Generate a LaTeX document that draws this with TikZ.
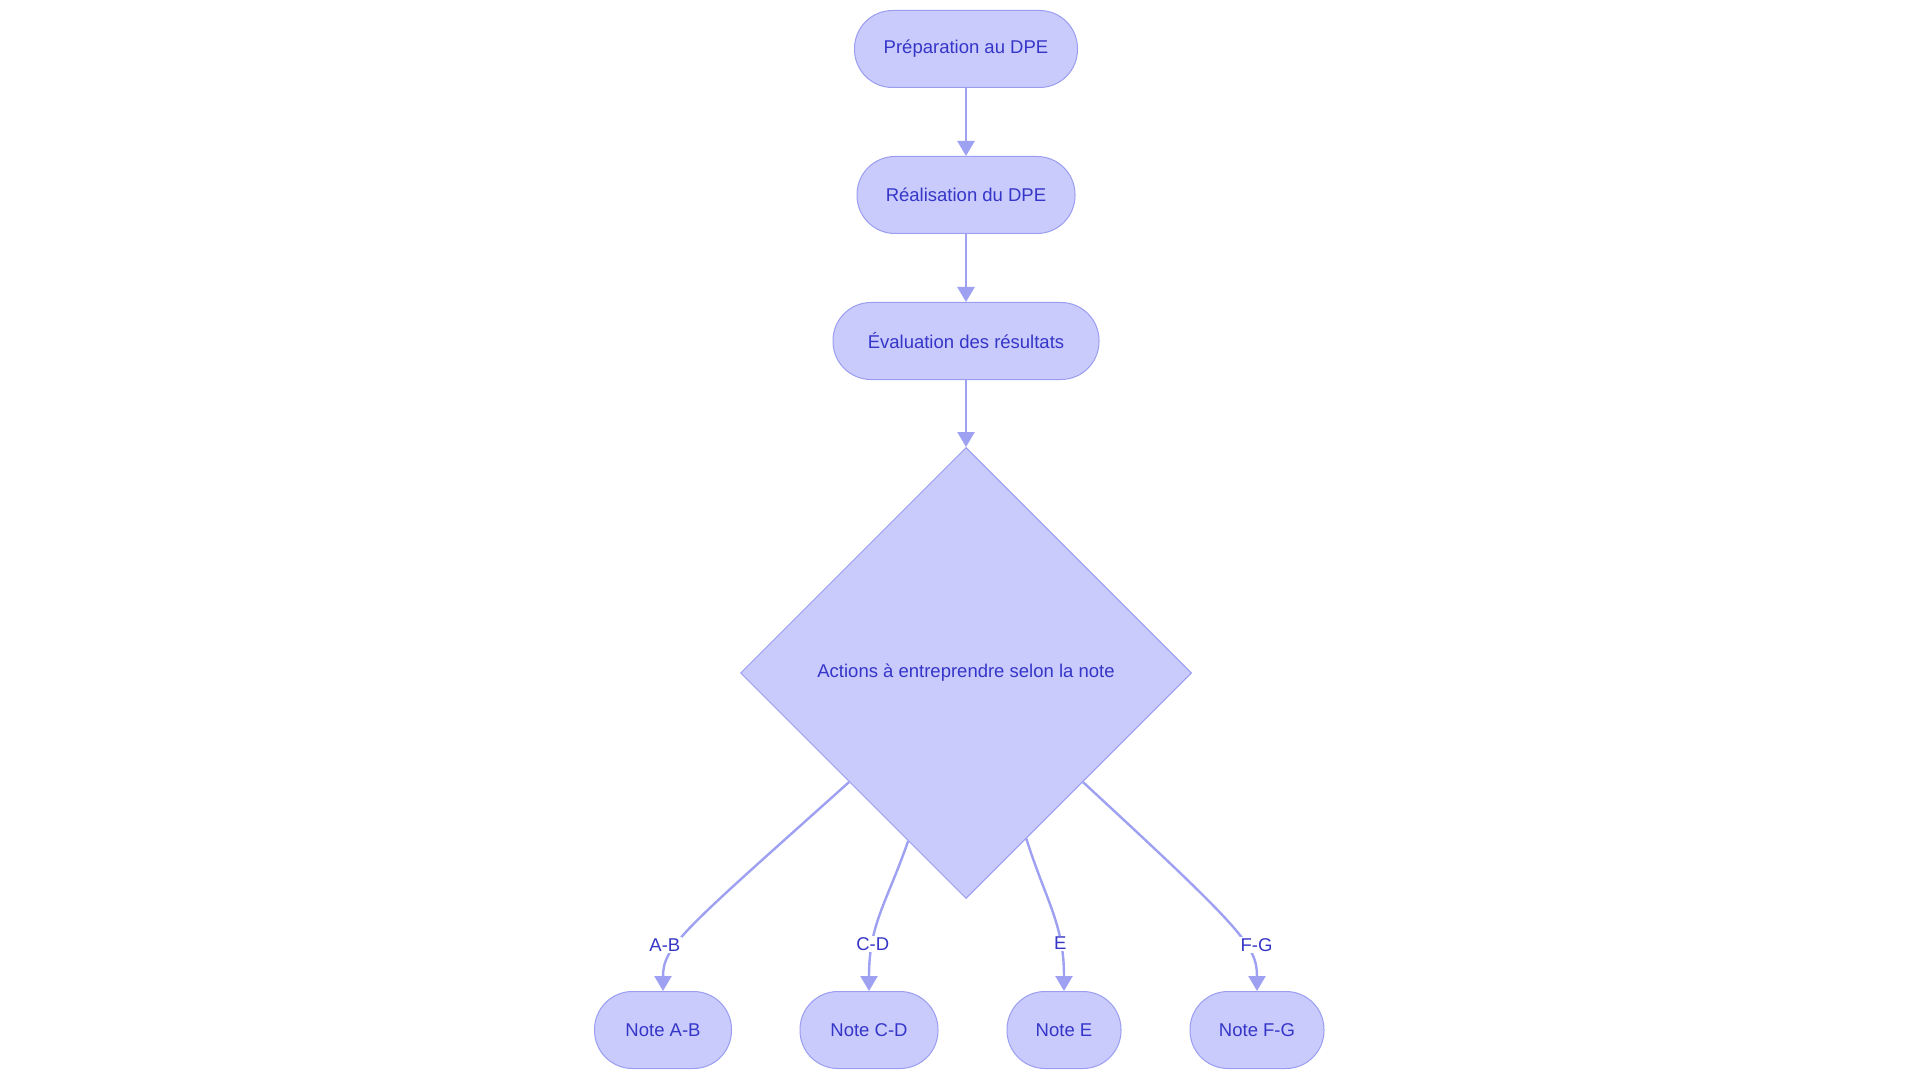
\documentclass[tikz,border=0pt]{standalone}
\usepackage{fontspec}
\setmainfont{Liberation Sans}
\usetikzlibrary{arrows.meta, positioning, shapes.geometric}

\definecolor{dpefill}{HTML}{C9CBFD}
\definecolor{dpeborder}{HTML}{9A9DF0}
\definecolor{dpeedge}{HTML}{9EA1F2}
\definecolor{dpetext}{HTML}{3535C8}

\begin{document}
\begin{tikzpicture}[
    x=1pt, y=1pt,
    font=\fontsize{18.5}{22}\selectfont,
    stadium/.style={
        rectangle, draw=dpeborder, line width=1pt, fill=dpefill,
        rounded corners=38pt, minimum height=77pt,
        align=center, text=dpetext
    },
    choice/.style={
        diamond, draw=dpeborder, line width=1pt, fill=dpefill,
        aspect=1, minimum size=451pt, inner sep=0pt,
        align=center, text=dpetext
    },
    arrow/.style={
        -{Triangle[width=17pt, length=15pt]}, line width=2.4pt, draw=dpeedge
    },
    edgelabel/.style={
        fill=white, inner sep=1.5pt, pos=0.72, text=dpetext
    }
]

    \fill[white] (0,0) rectangle (1920,-1083);

    % --- NODES ---
    \node [stadium, minimum width=223pt] (prep) at (966,-49) {Préparation au DPE};
    \node [stadium, minimum width=218pt, below=68pt of prep] (real) {Réalisation du DPE};
    \node [stadium, minimum width=266pt, below=68pt of real] (eval) {Évaluation des résultats};
    \node [choice, below=67pt of eval] (actions) {Actions à entreprendre selon la note};

    \node [stadium, minimum width=137pt] (noteAB) at (663,-1030) {Note A-B};
    \node [stadium, minimum width=138pt] (noteCD) at (869,-1030) {Note C-D};
    \node [stadium, minimum width=114pt] (noteE) at (1064,-1030) {Note E};
    \node [stadium, minimum width=134pt] (noteFG) at (1257,-1030) {Note F-G};

    % --- CONNECTING ARROWS ---
    \draw [arrow] (prep) -- (real);
    \draw [arrow] (real) -- (eval);
    \draw [arrow] (eval) -- (actions);

    \draw [arrow] (actions.-137) .. controls +(-165,-148) and +(0,45) .. node[edgelabel, pos=0.63, xshift=-13pt]{A-B} (noteAB.north);
    \draw [arrow] (actions.-109.5) .. controls +(-22,-63) and +(0,67) .. node[edgelabel]{C-D} (noteCD.north);
    \draw [arrow] (actions.-70) .. controls +(20,-63) and +(0,67) .. node[edgelabel]{E} (noteE.north);
    \draw [arrow] (actions.-43) .. controls +(160,-148) and +(0,45) .. node[edgelabel, pos=0.63, xshift=12pt]{F-G} (noteFG.north);

\end{tikzpicture}
\end{document}
